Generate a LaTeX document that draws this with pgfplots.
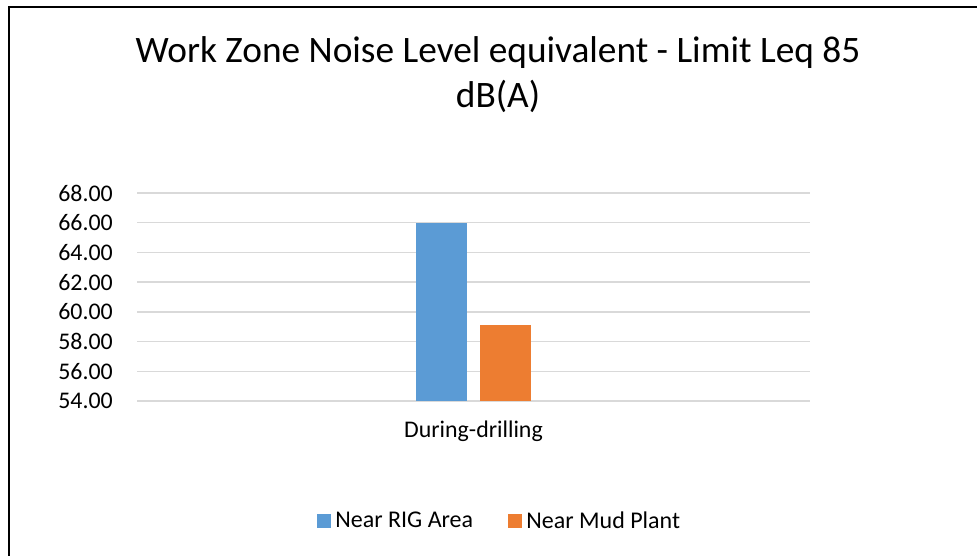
\documentclass[border=0pt]{standalone}
\usepackage{fontspec}
\setmainfont{Carlito}
\usepackage{pgfplots}
\pgfplotsset{compat=1.18}
\definecolor{rigblue}{HTML}{5B9BD5}
\definecolor{mudorange}{HTML}{ED7D31}
\definecolor{gridgray}{HTML}{D9D9D9}
\begin{document}
\begin{tikzpicture}
% page frame, 1px = 0.75pt
\path[use as bounding box] (0,0) rectangle (732.75pt,417pt);
\draw[line width=1.5pt] (6.75pt,0) -- (6.75pt,411.75pt) -- (732.75pt,411.75pt);
% title
\node[anchor=base, font=\fontsize{28}{33}\selectfont] at (373.5pt,370pt)
  {Work Zone Noise Level equivalent - Limit Leq 85};
\node[anchor=base, font=\fontsize{28}{33}\selectfont] at (373.5pt,336pt) {dB(A)};
\begin{axis}[at={(102.75pt,116.25pt)}, anchor=south west,
  width=504.75pt, height=156pt, scale only axis,
  ybar=9.75pt, bar width=38.25pt,
  xmin=-0.5, xmax=0.5, ymin=54, ymax=68,
  xtick={0}, xticklabels={During-drilling},
  ytick={54,56,...,68},
  ymajorgrids, grid style={gridgray, line width=1.1pt},
  axis line style={draw=none}, major tick length=0pt,
  tick label style={font=\fontsize{17.9}{21}\selectfont},
  yticklabel style={anchor=east, inner sep=0pt, xshift=-18pt},
  xticklabel style={anchor=base, inner sep=0pt, yshift=-27.5pt},
  /pgf/number format/.cd, fixed, fixed zerofill, precision=2, assume math mode=true,
  /pgfplots/.cd,
  legend columns=2,
  legend style={at={(0.539,-0.577)}, anchor=center, draw=none,
    font=\fontsize{18}{21}\selectfont,
    /tikz/every even column/.append style={column sep=24pt}},
  legend image code/.code={\fill[#1] (0pt,-5.25pt) rectangle (10.5pt,5.25pt);
    \path (12pt,0pt);},
  legend cell align=left,
]
\addplot[fill=rigblue, draw=none] coordinates {(0,66.0)};
\addlegendentry{Near RIG Area}
\addplot[fill=mudorange, draw=none] coordinates {(0,59.1)};
\addlegendentry{Near Mud Plant}
\end{axis}
\end{tikzpicture}
\end{document}
